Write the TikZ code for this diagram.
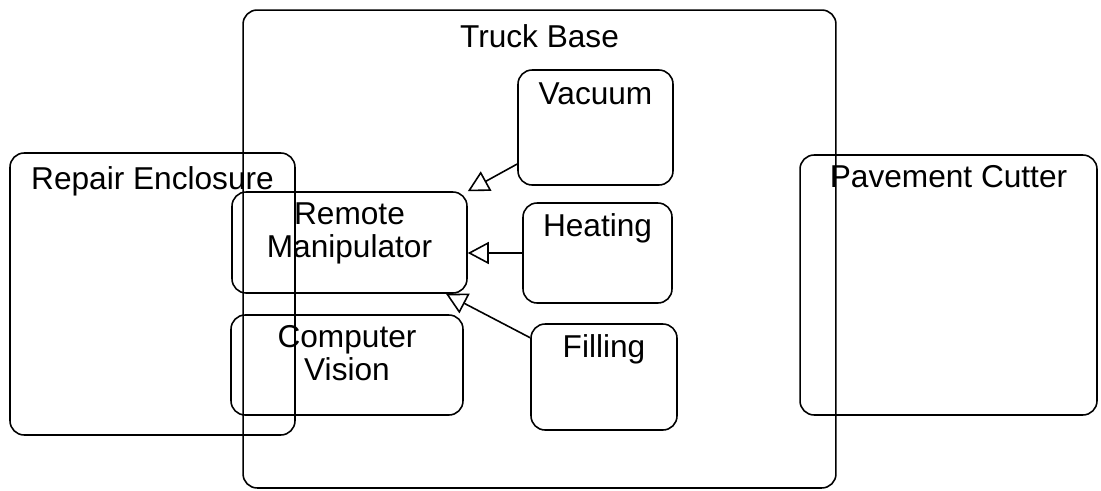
\documentclass[tikz,border=0pt]{standalone}
\usepackage{fontspec}
\setmainfont{Liberation Sans}
\usetikzlibrary{positioning,arrows.meta,calc}

\begin{document}
\begin{tikzpicture}[
      x=0.02cm, y=-0.02cm,
      box/.style={draw, line width=0.9pt, rounded corners=8pt},
      lbl/.style={anchor=north, align=center, yshift=-0.1cm, font=\fontsize{18}{19}\selectfont},
      arr/.style={-{Triangle[open, length=0.42cm, width=0.44cm]}, line width=0.9pt}
  ]
    \useasboundingbox (0,0) rectangle (1101,490);
    \node[box, minimum width=11.86cm, minimum height=9.56cm, label={[lbl, yshift=-0.08cm]north:Truck Base}] (truck) at (539.5,249) {};
    \node[box, minimum width=5.7cm, minimum height=5.64cm, label={[lbl, yshift=-0.06cm]north:Repair Enclosure}] (repair) at (152.5,294) {};
    \node[box, minimum width=5.94cm, minimum height=5.2cm, label={[lbl]north:Pavement Cutter}] (cutter) at (948.5,285) {};
    \node[box, minimum width=4.7cm, minimum height=2.02cm, label={[lbl]north:Remote\\Manipulator}] (manip) at (349.5,242.5) {};
    \node[box, minimum width=4.64cm, minimum height=2.0cm, label={[lbl]north:Computer\\Vision}] (vision) at (347,365) {};
    \node[box, minimum width=3.1cm, minimum height=2.3cm, label={[lbl, yshift=-0.04cm]north:Vacuum}] (vacuum) at (595.5,127.5) {};
    \node[box, minimum width=2.98cm, minimum height=2.0cm, label={[lbl]north:Heating}] (heating) at (597.5,253) {};
    \node[box, minimum width=2.92cm, minimum height=2.12cm, label={[lbl]north:Filling}] (filling) at (604,377) {};
    \draw[arr] (vacuum.205) -- (manip.north east);
    \draw[arr] (heating.west) -- (heating.west -| manip.east);
    \draw[arr] (filling.152) -- (manip.332);
  \end{tikzpicture}
\end{document}
